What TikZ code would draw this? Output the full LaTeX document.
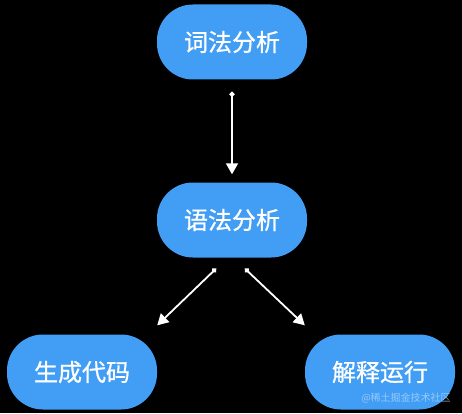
\documentclass[tikz,border=0pt]{standalone}
\usepackage{fontspec}
\newfontfamily\cjk{Noto Sans CJK SC}
\newfontfamily\cjkmid{Noto Sans CJK SC}[FakeBold=0.8]
\usetikzlibrary{arrows.meta}

\definecolor{stepblue}{RGB}{66,158,245}

\begin{document}
\begin{tikzpicture}[x=1pt, y=1pt,
  stepbox/.style={fill=stepblue, rounded corners=36pt, minimum width=150pt,
    minimum height=75pt, text=white, font=\cjkmid\fontsize{24}{28}\selectfont},
  flow/.style={white, line width=1.8pt, {Circle[length=5pt]}-{Triangle[length=11pt, width=12pt]}}]
% Background
\fill[black] (0,0) rectangle (462,413);

% Draw stages
\node[stepbox] (lex) at (232,371) {词法分析};
\node[stepbox] (parse) at (232,193) {语法分析};
\node[stepbox] (gen) at (82,41) {生成代码};
\node[stepbox] (run) at (380,41) {解释运行};

% Arrow ends
\coordinate (ls) at ([yshift=-12pt]lex.south);
\coordinate (pn) at ([yshift=8pt]parse.north);
\coordinate (pl) at ([xshift=-16pt, yshift=-11pt]parse.south);
\coordinate (pr) at ([xshift=13pt, yshift=-11pt]parse.south);
\coordinate (gt) at ([yshift=9pt]gen.north east);
\coordinate (rt) at ([yshift=9pt]run.north west);

% Draw arrows
\draw[flow] (ls) -- (pn);
\draw[flow] (pl) -- (gt);
\draw[flow] (pr) -- (rt);

% Watermark
\node[text=white!55!stepblue, opacity=0.8, font=\cjk\fontsize{10}{12}\selectfont] (mark) at (406,15) {@稀土掘金技术社区};
\end{tikzpicture}
\end{document}
